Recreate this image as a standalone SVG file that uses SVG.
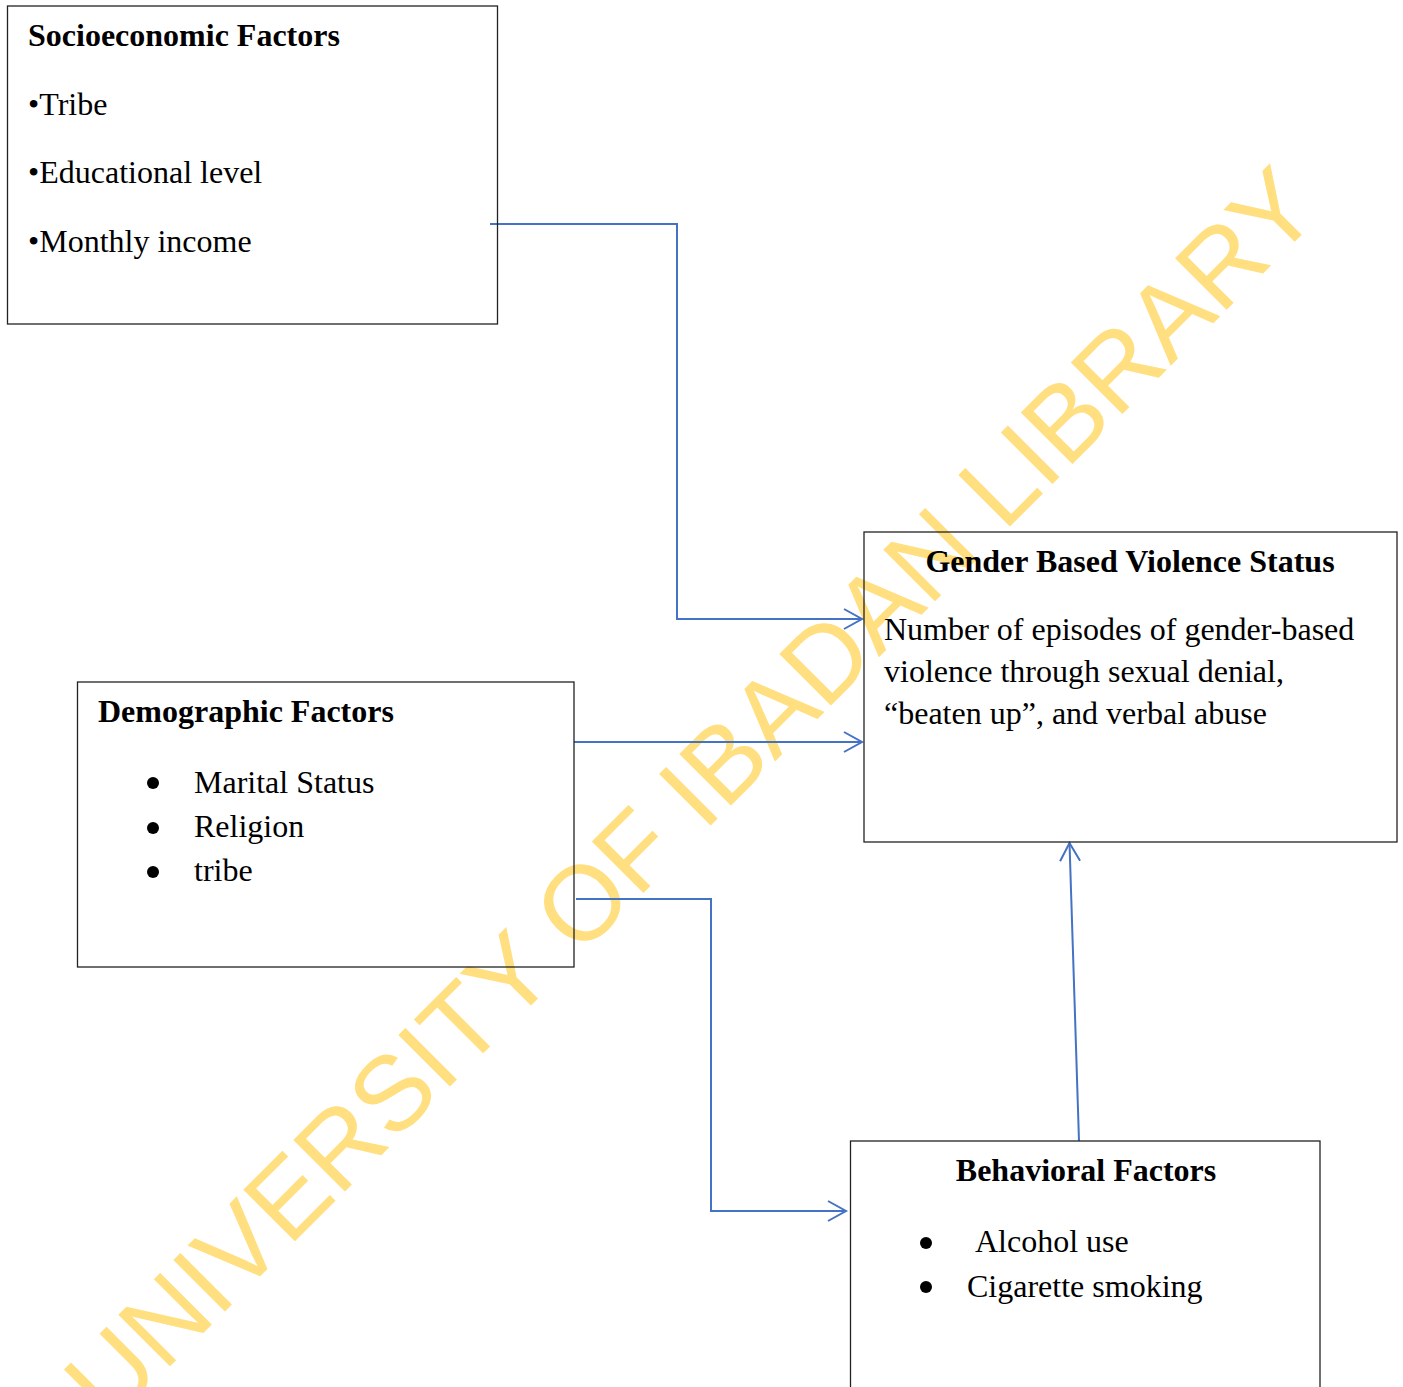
<svg xmlns="http://www.w3.org/2000/svg" width="1403" height="1387" viewBox="0 0 1403 1387">
<style>
.box{fill:none;stroke:#222;stroke-width:1.3}
.t{font-family:"Liberation Serif","Times New Roman",serif;font-size:32px;fill:#000}
.b{font-weight:bold}
.c{text-anchor:middle}
.con{fill:none;stroke:#4472C4;stroke-width:2}
.wm{font-family:"Liberation Sans",Arial,sans-serif;font-size:106px;fill:#FFDF80}
</style>
<defs>
<marker id="arr" markerUnits="userSpaceOnUse" markerWidth="24" markerHeight="24" viewBox="-20 -12 24 24" refX="0" refY="0" orient="auto">
<path d="M-18,-10 L0,0 L-18,10" fill="none" stroke="#4472C4" stroke-width="2"/>
</marker>
</defs>
<rect width="1403" height="1387" fill="#fff"/>
<text class="wm" transform="translate(109.7,1426.7) rotate(-45)">UNIVERSITY OF IBADAN LIBRARY</text>
<g id="connectors">
<path class="con" d="M490,224 H677 V619 H862" marker-end="url(#arr)"/>
<path class="con" d="M574,742 H862" marker-end="url(#arr)"/>
<path class="con" d="M576,899 H711 V1211 H846" marker-end="url(#arr)"/>
<path class="con" d="M1079,1141 L1069.5,843" marker-end="url(#arr)"/>
</g>
<g id="socioeconomic">
<rect class="box" x="7.5" y="6" width="490" height="318"/>
<text class="t b" x="28" y="46">Socioeconomic Factors</text>
<text class="t" x="28" y="115">•Tribe</text>
<text class="t" x="28" y="183">•Educational level</text>
<text class="t" x="28" y="252">•Monthly income</text>
</g>
<g id="gbv">
<rect class="box" x="864" y="532" width="533" height="310"/>
<text class="t b c" x="1130" y="572">Gender Based Violence Status</text>
<text class="t" x="884" y="640">Number of episodes of gender-based</text>
<text class="t" x="884" y="682">violence through sexual denial,</text>
<text class="t" x="884" y="724">“beaten up”, and verbal abuse</text>
</g>
<g id="demographic">
<rect class="box" x="77.5" y="682" width="496.5" height="285"/>
<text class="t b" x="98" y="722">Demographic Factors</text>
<circle cx="153" cy="783" r="6"/>
<circle cx="153" cy="828" r="6"/>
<circle cx="153" cy="872" r="6"/>
<text class="t" x="194" y="793">Marital Status</text>
<text class="t" x="194" y="837">Religion</text>
<text class="t" x="194" y="881">tribe</text>
</g>
<g id="behavioral">
<rect class="box" x="850.5" y="1141" width="469.5" height="260"/>
<text class="t b c" x="1086" y="1181">Behavioral Factors</text>
<circle cx="926" cy="1243" r="6"/>
<circle cx="926" cy="1287" r="6"/>
<text class="t" x="975" y="1252">Alcohol use</text>
<text class="t" x="967" y="1297">Cigarette smoking</text>
</g>
</svg>
